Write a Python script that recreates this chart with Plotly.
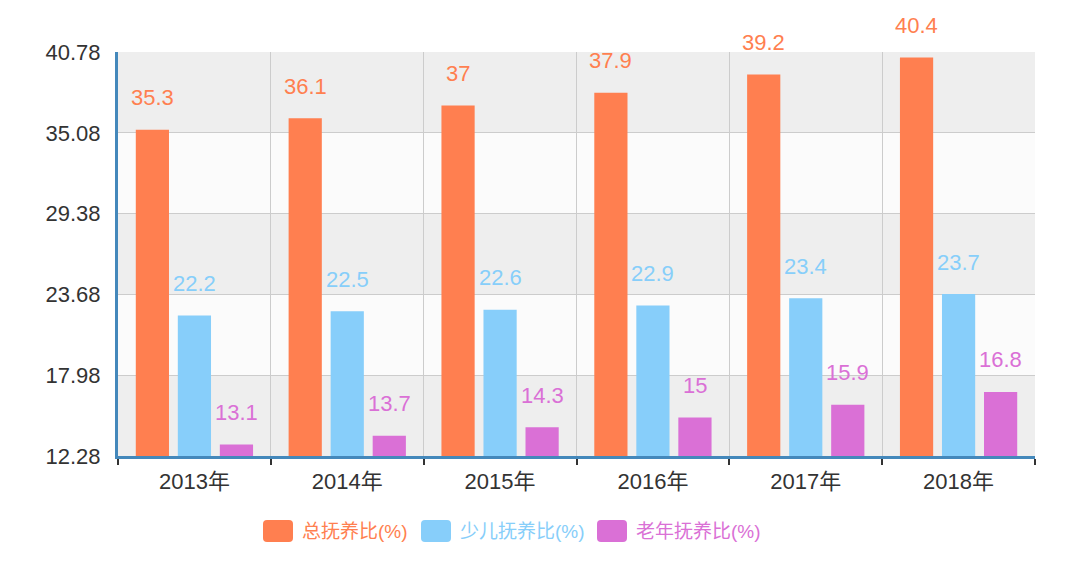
import plotly.graph_objects as go

categories = ["2013年", "2014年", "2015年", "2016年", "2017年", "2018年"]
total_ratio = [35.3, 36.1, 37.0, 37.9, 39.2, 40.4]
child_ratio = [22.2, 22.5, 22.6, 22.9, 23.4, 23.7]
elderly_ratio = [13.1, 13.7, 14.3, 15.0, 15.9, 16.8]
series_names = ["总抚养比(%)", "少儿抚养比(%)", "老年抚养比(%)"]
y_ticks = [12.28, 17.98, 23.68, 29.38, 35.08, 40.78]

colors = ["#ff7f50", "#87cefa", "#da70d6"]
series_values = [total_ratio, child_ratio, elderly_ratio]

W, H = 1080, 581
OFF = 8  # page body margin
# target plot area in window pixels: x 118..1035, y 52..456
L, R, T, B = 118 - OFF, W - 1035 + OFF, 52 - OFF, H - 456 + OFF
PW, PH = W - L - R, H - T - B
FONT = "Liberation Sans, Arial, Noto Sans CJK SC, sans-serif"


def fmt(v):
    return ("%g" % v)


fig = go.Figure()
for name, vals, col in zip(series_names, series_values, colors):
    fig.add_trace(go.Bar(x=categories, y=vals, name=name, marker=dict(color=col, line=dict(width=0)),
                         showlegend=False))

# value labels above bars
shifts = [-42, 0, 42]
annotations = []
for vals, col, xs in zip(series_values, colors, shifts):
    for c, v in zip(categories, vals):
        annotations.append(dict(x=c, y=v, xref="x", yref="y", text=fmt(v), showarrow=False,
                                xshift=xs, yshift=32, yanchor="middle",
                                font=dict(family=FONT, size=22, color=col)))

shapes = []
# alternating split areas
band_cols = ["#eeeeee", "#fbfbfb"]
for i in range(len(y_ticks) - 1):
    shapes.append(dict(type="rect", xref="paper", yref="y", x0=0, x1=1, y0=y_ticks[i], y1=y_ticks[i + 1],
                       fillcolor=band_cols[i % 2], line=dict(width=0), layer="below"))


# custom legend (coordinates in window pixels)
def px2paper(px, py):
    return (px - OFF - L) / PW, (T + PH - (py - OFF)) / PH


def rrect(x0, y0, x1, y1, r):
    ax0, ay0 = px2paper(x0, y1)
    ax1, ay1 = px2paper(x1, y0)
    rx, ry = r / PW, r / PH
    return (f"M {ax0+rx},{ay0} L {ax1-rx},{ay0} Q {ax1},{ay0} {ax1},{ay0+ry} "
            f"L {ax1},{ay1-ry} Q {ax1},{ay1} {ax1-rx},{ay1} L {ax0+rx},{ay1} "
            f"Q {ax0},{ay1} {ax0},{ay1-ry} L {ax0},{ay0+ry} Q {ax0},{ay0} {ax0+rx},{ay0} Z")


leg_x = [263, 421, 597]
leg_y0, leg_y1 = 520, 542
for name, col, lx in zip(series_names, colors, leg_x):
    shapes.append(dict(type="path", xref="paper", yref="paper", path=rrect(lx, leg_y0, lx + 30, leg_y1, 4),
                       fillcolor=col, line=dict(width=0)))
    tx, ty = px2paper(lx + 37, (leg_y0 + leg_y1) / 2)
    annotations.append(dict(x=tx, y=ty, xref="paper", yref="paper", text=name, showarrow=False,
                            xanchor="left", yanchor="middle",
                            font=dict(family=FONT, size=19, color=col)))

fig.update_layout(
    width=W, height=H,
    margin=dict(l=L, r=R, t=T, b=B, autoexpand=False),
    paper_bgcolor="#ffffff",
    plot_bgcolor="#fbfbfb",
    barmode="group",
    bargap=0.175,
    bargroupgap=0.21,
    showlegend=False,
    font=dict(family=FONT, color="#333333"),
    shapes=shapes,
    annotations=annotations,
    xaxis=dict(
        type="category",
        tickson="boundaries",
        showgrid=True, gridcolor="#cccccc", gridwidth=1,
        ticks="outside", ticklen=6, tickwidth=1.5, tickcolor="#333333",
        showline=True, linecolor="#4488bb", linewidth=3,
        tickfont=dict(family=FONT, size=22, color="#333333"),
        ticklabelstandoff=4,
        zeroline=False,
        fixedrange=True,
    ),
    yaxis=dict(
        range=[y_ticks[0], y_ticks[-1]],
        tickvals=y_ticks,
        ticktext=["%.2f" % v for v in y_ticks],
        showgrid=True, gridcolor="#cccccc", gridwidth=1,
        ticks="", showline=True, linecolor="#4488bb", linewidth=3,
        tickfont=dict(family=FONT, size=22, color="#333333"),
        ticklabelstandoff=10,
        zeroline=False,
        fixedrange=True,
    ),
)

fig.write_html("out.html")
